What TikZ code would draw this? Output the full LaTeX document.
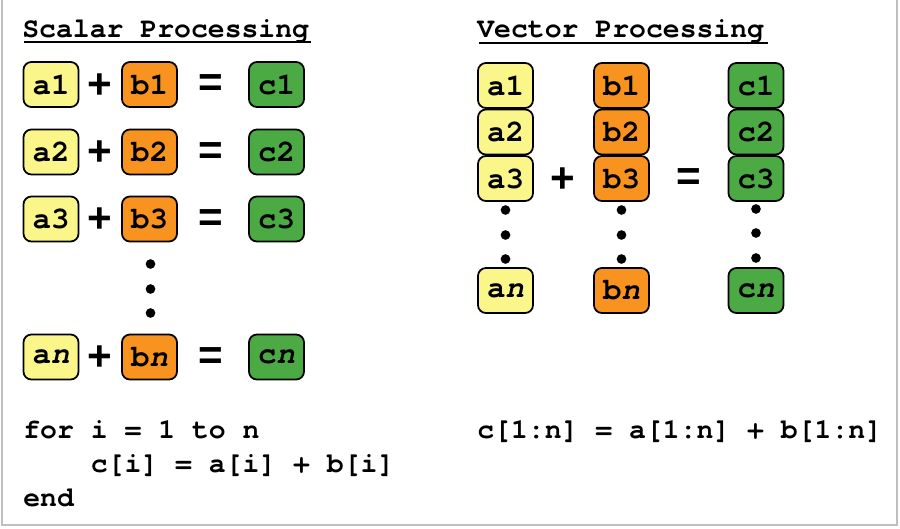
\documentclass[tikz,border=0pt]{standalone}
\usepackage{fontspec}
\setmonofont{TeX Gyre Cursor}
\newfontfamily\signfont{Liberation Sans}
\usepackage{xcolor}

\definecolor{ayellow}{HTML}{FAF68A}
\definecolor{borange}{HTML}{F7931E}
\definecolor{cgreen}{HTML}{4CAA44}

\begin{document}
\begin{tikzpicture}[x=0.02cm,y=-0.02cm,
  cell/.style={draw=black,line width=1pt,rounded corners=4.5pt,minimum width=1.1cm,minimum height=0.9cm,inner sep=0pt,font=\ttfamily\bfseries\fontsize{17.5}{20}\selectfont},
  acell/.style={cell,fill=ayellow},
  bcell/.style={cell,fill=borange},
  ccell/.style={cell,fill=cgreen},
  sign/.style={inner sep=0pt,font=\signfont\bfseries\fontsize{24}{28}\selectfont},
  code/.style={anchor=base west,inner sep=0pt,font=\ttfamily\bfseries\fontsize{16}{19}\selectfont},
  dot/.style={circle,fill=black,inner sep=0pt,minimum size=5.5pt}]
\useasboundingbox (0,0) rectangle (900,528);
\draw[black!25,line width=1.2pt] (2,0) -- (2,525) -- (897,525) -- (897,0);
% scalar processing
\node[code] (stitle) at (22,37) {Scalar Processing};
\draw[line width=1.2pt] (24,42) -- (311,42);
\node[acell] (sa1) at (51,84.5) {a1};
\node[sign] (sp1) at (100,86) {+};
\node[bcell] (sb1) at (149.5,84.5) {b1};
\node[sign] (se1) at (211,86) {=};
\node[ccell] (sc1) at (276.5,84.5) {c1};
\node[acell] (sa2) at (51,152) {a2};
\node[sign] (sp2) at (100,153.5) {+};
\node[bcell] (sb2) at (149.5,152) {b2};
\node[sign] (se2) at (211,153.5) {=};
\node[ccell] (sc2) at (276.5,152) {c2};
\node[acell] (sa3) at (51,219) {a3};
\node[sign] (sp3) at (100,220.5) {+};
\node[bcell] (sb3) at (149.5,219) {b3};
\node[sign] (se3) at (211,220.5) {=};
\node[ccell] (sc3) at (276.5,219) {c3};
\node[dot] (sd1) at (150.5,264) {};
\node[dot] (sd2) at (150.5,289) {};
\node[dot] (sd3) at (150.5,313) {};
\node[acell] (san) at (51,357) {a\textit{n}};
\node[sign] (spn) at (100,358.5) {+};
\node[bcell] (sbn) at (149.5,357) {b\textit{n}};
\node[sign] (sen) at (211,358.5) {=};
\node[ccell] (scn) at (276.5,357) {c\textit{n}};
\node[code] (sfor) at (23,438) {for i = 1 to n};
\node[code] (sbody) at (23,472) {\ \ \ \ c[i] = a[i] + b[i]};
\node[code] (send) at (23,506) {end};
% vector processing
\node[code] (vtitle) at (477,37) {Vector Processing};
\draw[line width=1.2pt] (479,43) -- (768,43);
\node[acell] (va1) at (505.5,85.5) {a1};
\node[acell] (va2) at (505.5,132) {a2};
\node[acell] (va3) at (505.5,178.5) {a3};
\node[dot] (vad1) at (505.5,210) {};
\node[dot] (vad2) at (505.5,235) {};
\node[dot] (vad3) at (505.5,259) {};
\node[acell] (van) at (505.5,290.5) {a\textit{n}};
\node[sign] (vp) at (563,180) {+};
\node[bcell] (vb1) at (621.5,85.5) {b1};
\node[bcell] (vb2) at (621.5,132) {b2};
\node[bcell] (vb3) at (621.5,178.5) {b3};
\node[dot] (vbd1) at (621.5,210) {};
\node[dot] (vbd2) at (621.5,235) {};
\node[dot] (vbd3) at (621.5,259) {};
\node[bcell] (vbn) at (621.5,290.5) {b\textit{n}};
\node[sign] (ve) at (689,180) {=};
\node[ccell] (vc1) at (756,85.5) {c1};
\node[ccell] (vc2) at (756,132) {c2};
\node[ccell] (vc3) at (756,178.5) {c3};
\node[dot] (vcd1) at (756,209) {};
\node[dot] (vcd2) at (756,233) {};
\node[dot] (vcd3) at (756,258) {};
\node[ccell] (vcn) at (756,290.5) {c\textit{n}};
\node[code] (vcode) at (477,438) {c[1:n] = a[1:n] + b[1:n]};
\end{tikzpicture}
\end{document}
